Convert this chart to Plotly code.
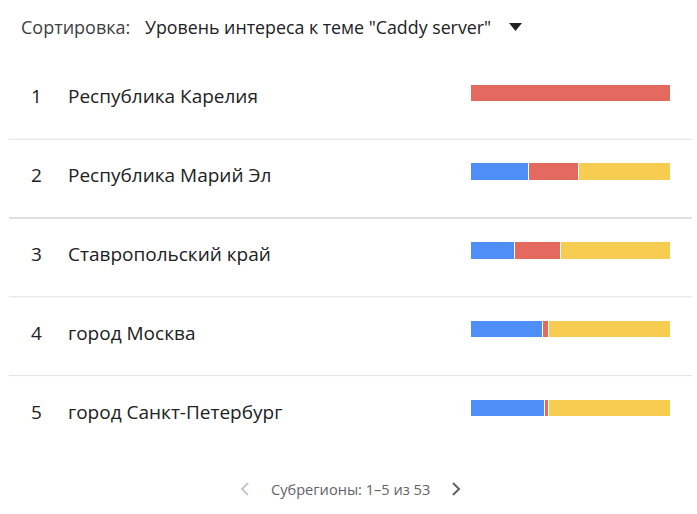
import plotly.graph_objects as go

regions = ["Республика Карелия", "Республика Марий Эл", "Ставропольский край",
           "город Москва", "город Санкт-Петербург"]
ranks = ["1", "2", "3", "4", "5"]
blue_vals = [0, 29, 22, 36, 37]
red_vals = [100, 25, 23, 3, 2]
yellow_vals = [0, 46, 55, 61, 61]

header_label = "Сортировка:"
header_value = 'Уровень интереса к теме "Caddy server"'
footer_text = "Субрегионы: 1–5 из 53"

W, H = 697, 514
FONT = "Open Sans, Roboto, Arial, sans-serif"

def px(x):
    return x / W

def py(y):
    return 1 - y / H

fig = go.Figure()
for vals, color in [(blue_vals, "#4D8EF7"), (red_vals, "#E4695F"), (yellow_vals, "#F7CD51")]:
    fig.add_trace(go.Bar(
        y=regions, x=vals, orientation="h",
        marker=dict(color=color, line=dict(color="white", width=1)),
        width=0.22, hoverinfo="skip", showlegend=False,
    ))

annotations = []
for r, name in zip(ranks, regions):
    annotations.append(dict(xref="paper", yref="y", x=px(36), y=name, text=r,
                            showarrow=False, xanchor="center", yanchor="middle", yshift=-3,
                            font=dict(family=FONT, size=19, color="#202124")))
    annotations.append(dict(xref="paper", yref="y", x=px(66), y=name, text=name,
                            showarrow=False, xanchor="left", yanchor="middle", yshift=-3,
                            font=dict(family=FONT, size=19, color="#202124")))

annotations += [
    dict(xref="paper", yref="paper", x=px(19), y=py(27), text=header_label, showarrow=False,
         xanchor="left", yanchor="middle", font=dict(family=FONT, size=18, color="#3c4043")),
    dict(xref="paper", yref="paper", x=px(143), y=py(27), text=header_value, showarrow=False,
         xanchor="left", yanchor="middle", font=dict(family=FONT, size=17.8, color="#202124")),
    dict(xref="paper", yref="paper", x=px(351), y=py(489), text=footer_text, showarrow=False,
         xanchor="center", yanchor="middle", font=dict(family=FONT, size=14.6, color="#5f6368")),
]

shapes = []
for i in range(len(regions) - 1):
    shapes.append(dict(type="line", xref="paper", yref="y",
                       x0=px(9), x1=px(692), y0=i + 0.582, y1=i + 0.582,
                       line=dict(color="#e0e0e0", width=2 if i == 1 else 1)))

# dropdown triangle
shapes.append(dict(type="path", xref="paper", yref="paper",
                   path=f"M {px(509)} {py(23)} L {px(522)} {py(23)} L {px(515.5)} {py(31)} Z",
                   fillcolor="#202124", line=dict(width=0)))
# pagination chevrons
shapes.append(dict(type="path", xref="paper", yref="paper",
                   path=f"M {px(248)} {py(483)} L {px(242)} {py(489)} L {px(248)} {py(495)}",
                   line=dict(color="#c8c8c8", width=2)))
shapes.append(dict(type="path", xref="paper", yref="paper",
                   path=f"M {px(453)} {py(483)} L {px(459)} {py(489)} L {px(453)} {py(495)}",
                   line=dict(color="#5f6368", width=2)))

fig.update_layout(
    width=W, height=H, autosize=False,
    margin=dict(l=0, r=0, t=0, b=0),
    paper_bgcolor="white", plot_bgcolor="white",
    barmode="stack", bargap=0,
    xaxis=dict(domain=[px(471), px(671)], range=[0, 100], visible=False, fixedrange=True),
    yaxis=dict(domain=[py(447.9), py(54.1)], categoryorder="array", categoryarray=regions,
               autorange="reversed", visible=False, fixedrange=True),
    annotations=annotations, shapes=shapes,
    showlegend=False,
)

fig.write_html("out.html", config={"displayModeBar": False})
